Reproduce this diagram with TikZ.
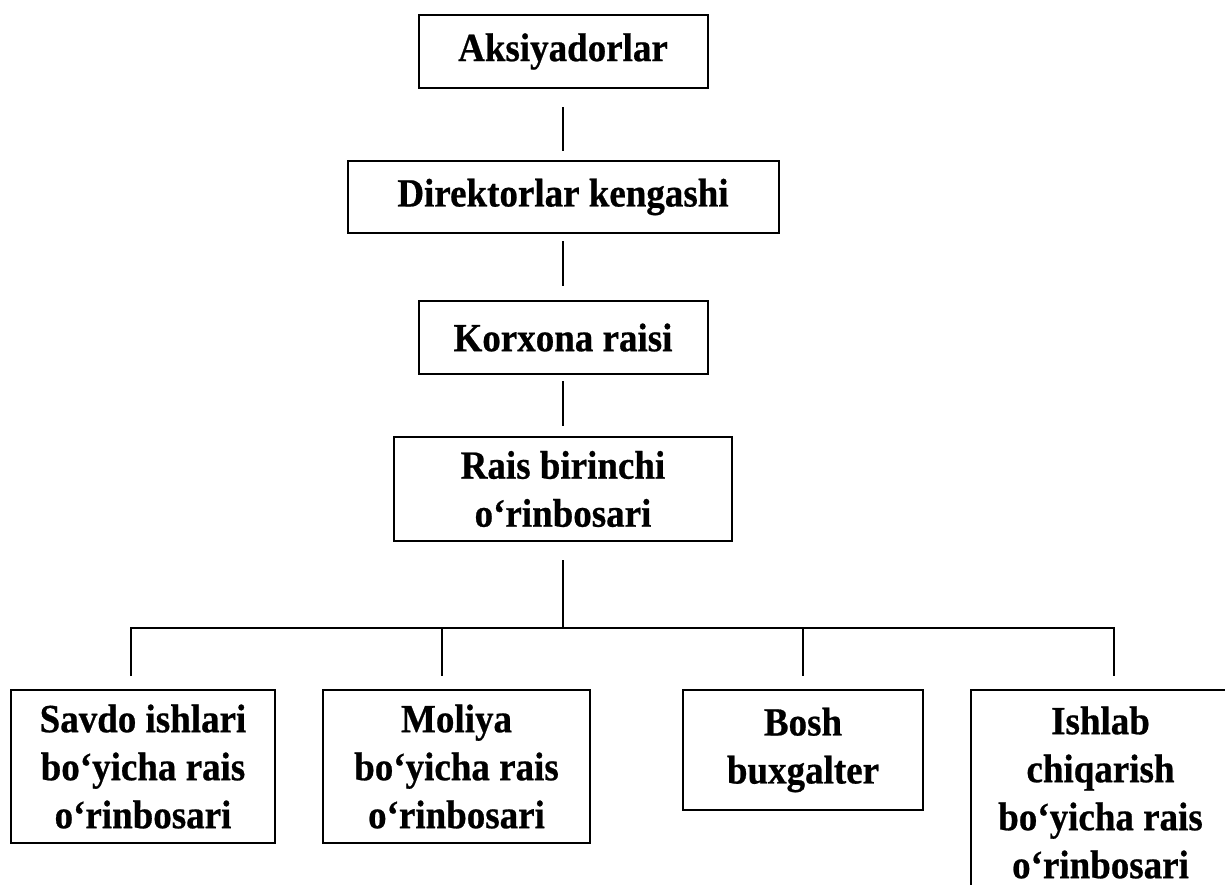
\documentclass[tikz,border=0pt]{standalone}
\usepackage{fontspec}
\setmainfont{Liberation Serif}
% slightly condensed, slightly heavier serif for the box labels
\newfontfamily\boxfont[FakeStretch=0.925,FakeBold=0.6]{Liberation Serif}
\begin{document}
\begin{tikzpicture}[x=0.5pt,y=-0.5pt,
  box/.style={draw, line width=1pt, inner sep=0pt, align=center,
    font=\boxfont\bfseries\fontsize{20pt}{24pt}\selectfont},
  link/.style={line width=1pt}]
% page frame (1 unit = 1 px, y grows downwards)
\clip (0,0) rectangle (1225,884);
\fill[white] (0,0) rectangle (1225,884);

% upper chain
\node[box, minimum width=144.5pt, minimum height=36.5pt] (aks) at (563,51.5) {Aksiyadorlar};
\node[box, minimum width=215.5pt, minimum height=36pt] (dir) at (563,197) {Direktorlar kengashi};
\node[box, minimum width=144.5pt, minimum height=36.5pt] (kor) at (563,337.5) {Korxona raisi};
\node[box, minimum width=169pt, minimum height=52pt] (rais) at (563,489) {Rais birinchi\\o‘rinbosari};

% lower row
\node[box, minimum width=132pt, minimum height=76.5pt] (savdo) at (143,766.5) {Savdo ishlari\\bo‘yicha rais\\o‘rinbosari};
\node[box, minimum width=133.5pt, minimum height=76.5pt] (moliya) at (456.5,766.5) {Moliya\\bo‘yicha rais\\o‘rinbosari};
\node[box, minimum width=120pt, minimum height=60pt] (bosh) at (803,750) {Bosh\\buxgalter};
\node[box, minimum width=129.5pt, minimum height=102.5pt] (ishlab) at (1100.5,792.5) {Ishlab\\chiqarish\\bo‘yicha rais\\o‘rinbosari};

% vertical links of the chain
\draw[link, shorten <=9pt, shorten >=4.5pt] (aks) -- (dir);
\draw[link, shorten <=3.5pt, shorten >=7pt] (dir) -- (kor);
\draw[link, shorten <=3pt, shorten >=5pt] (kor) -- (rais);

% distribution bus
\coordinate (bus) at (563,628);
\coordinate (d1) at (131,628);
\coordinate (d2) at (442,628);
\coordinate (d3) at (803,628);
\coordinate (d4) at (1114,628);
\draw[link, shorten <=9pt] (rais) -- (bus);
\draw[link, shorten <=6.5pt, shorten >=6.5pt]
  (d1 |- savdo.north) -- (d1) -- (d4) -- (d4 |- ishlab.north);
\draw[link, shorten >=6.5pt] (d2) -- (d2 |- moliya.north);
\draw[link, shorten >=6.5pt] (d3) -- (d3 |- bosh.north);
\end{tikzpicture}
\end{document}
